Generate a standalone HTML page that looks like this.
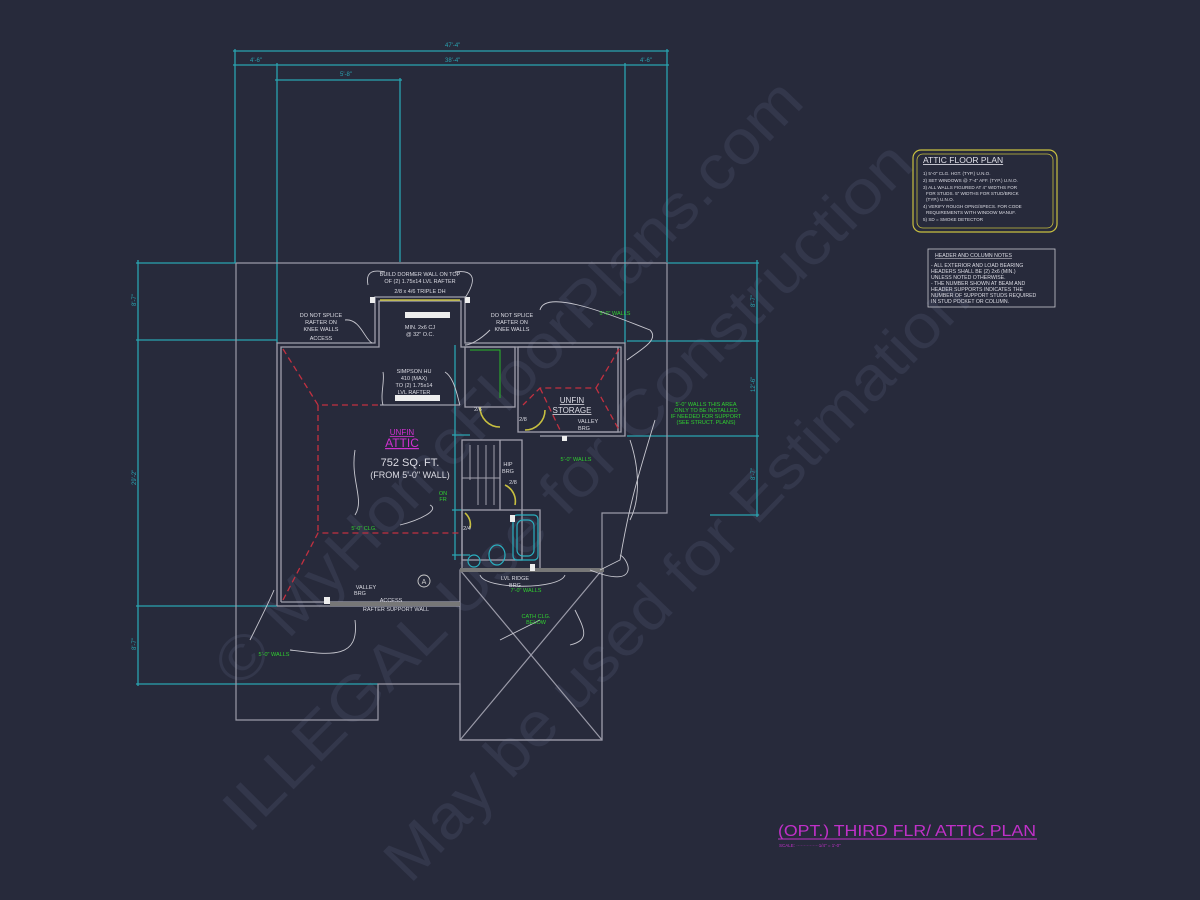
<!DOCTYPE html>
<html><head><meta charset="utf-8"><style>
html,body{margin:0;padding:0;background:#272a3b;}
svg{display:block;}
text{font-family:"Liberation Sans",sans-serif;}
</style></head><body>
<svg width="1200" height="900" viewBox="0 0 1200 900" xmlns="http://www.w3.org/2000/svg">
<rect width="1200" height="900" fill="#272a3b"/>
<!-- watermark -->
<g fill="#33374b" font-family="Liberation Serif,serif" font-size="62">
<text transform="translate(240,690) rotate(-46)" textLength="815" lengthAdjust="spacingAndGlyphs">© MyHomeFloorPlans.com</text>
<text transform="translate(248,835) rotate(-45)" textLength="945" lengthAdjust="spacingAndGlyphs">ILLEGAL Use for Construction</text>
<text transform="translate(410,885) rotate(-46)" textLength="810" lengthAdjust="spacingAndGlyphs">May be used for Estimation</text>
</g>
<!-- dimension lines cyan -->
<g stroke="#2aa3b0" stroke-width="1.3" fill="none">
<line x1="233" y1="51" x2="669" y2="51"/>
<line x1="233" y1="65" x2="669" y2="65"/>
<line x1="275" y1="80" x2="402" y2="80"/>
<line x1="235" y1="49" x2="235" y2="263"/>
<line x1="277" y1="63" x2="277" y2="343"/>
<line x1="400" y1="78" x2="400" y2="262"/>
<line x1="625" y1="63" x2="625" y2="343"/>
<line x1="667" y1="49" x2="667" y2="262"/>
<line x1="138" y1="260" x2="138" y2="686"/>
<line x1="136" y1="263" x2="236" y2="263"/>
<line x1="136" y1="340" x2="277" y2="340"/>
<line x1="136" y1="606" x2="277" y2="606"/>
<line x1="136" y1="684" x2="378" y2="684"/>
<line x1="757" y1="260" x2="757" y2="517"/>
<line x1="667" y1="263" x2="759" y2="263"/>
<line x1="627" y1="341" x2="759" y2="341"/>
<line x1="627" y1="436" x2="759" y2="436"/>
<line x1="710" y1="515" x2="759" y2="515"/>
<line x1="455" y1="345" x2="455" y2="560"/>
<line x1="452" y1="435" x2="470" y2="435"/>
<line x1="452" y1="510" x2="470" y2="510"/>
<line x1="452" y1="555" x2="470" y2="555"/>
</g>
<g fill="#2aa3b0" font-size="6">
<text x="445" y="47">47'-4"</text>
<text x="250" y="62">4'-6"</text>
<text x="445" y="62">38'-4"</text>
<text x="640" y="62">4'-6"</text>
<text x="340" y="76">5'-8"</text>
<text transform="translate(136,306) rotate(-90)">8'-7"</text>
<text transform="translate(136,485) rotate(-90)">29'-2"</text>
<text transform="translate(136,650) rotate(-90)">8'-7"</text>
<text transform="translate(755,307) rotate(-90)">8'-7"</text>
<text transform="translate(755,392) rotate(-90)">12'-6"</text>
<text transform="translate(755,480) rotate(-90)">8'-7"</text>
</g>
<!-- outer roof outline -->
<g stroke="#9a9aa8" stroke-width="1.2" fill="none">
<polyline points="236,263 667,263 667,513 602,513 602,740 460,740 460,684 378,684 378,720 236,720 236,263"/>
<line x1="460" y1="570" x2="602" y2="740"/>
<line x1="602" y1="570" x2="460" y2="740"/>
<rect x="460" y="570" width="142" height="170"/>
</g>
<!-- inner walls -->
<g stroke="#a0a0ad" stroke-width="1.3" fill="none">
<polyline points="277,606 277,343 375,343 375,297 465,297 465,343 625,343 625,436 540,436"/>
<polyline points="281,602 281,347 379,347 379,301 461,301 461,347 621,347 621,432 540,432"/>
<line x1="277" y1="606" x2="460" y2="606"/>
<line x1="281" y1="602" x2="460" y2="602"/>
<rect x="465" y="347" width="50" height="60"/>
<rect x="518" y="347" width="100" height="85"/>
<rect x="462" y="440" width="60" height="120"/>
<line x1="500" y1="440" x2="500" y2="510"/>
<rect x="462" y="510" width="78" height="60"/>
<line x1="380" y1="405" x2="460" y2="405"/>
</g>
<g stroke="#a0a0ad" stroke-width="1" fill="none">
<line x1="470" y1="445" x2="470" y2="480"/><line x1="478" y1="445" x2="478" y2="505"/><line x1="486" y1="445" x2="486" y2="505"/><line x1="494" y1="445" x2="494" y2="505"/>
<line x1="462" y1="478" x2="500" y2="478"/>
</g>
<rect x="460" y="568" width="144" height="4" fill="#777"/>
<rect x="330" y="602" width="130" height="4" fill="#777"/>
<polyline points="470,350 500,350 500,398" stroke="#28b828" fill="none"/>
<!-- red dashed hips -->
<g stroke="#c23040" stroke-width="1.3" fill="none" stroke-dasharray="6,4">
<polyline points="283,349 318,405 380,405"/>
<polyline points="283,600 318,533 460,533"/>
<line x1="318" y1="405" x2="318" y2="533"/>
<polyline points="619,349 596,388 540,388 523,405"/>
<line x1="596" y1="388" x2="619" y2="430"/>
<line x1="540" y1="388" x2="560" y2="430"/>
</g>
<!-- door swings yellow -->
<g stroke="#c8c040" stroke-width="1.6" fill="none">
<path d="M480,407 A20,20 0 0 0 500,427"/>
<path d="M525,430 A20,20 0 0 0 545,410"/>
<path d="M505,485 A18,18 0 0 1 515,505"/>
<path d="M465,513 A15,15 0 0 1 470,528"/>
<line x1="380" y1="300" x2="460" y2="300"/>
</g>
<!-- fixtures cyan -->
<g stroke="#2ab0c0" stroke-width="1.2" fill="none">
<rect x="513" y="515" width="25" height="45" rx="4"/>
<rect x="517" y="520" width="17" height="36" rx="6"/>
<ellipse cx="497" cy="555" rx="8" ry="10"/>
<circle cx="474" cy="561" r="6"/>
</g>
<rect x="405" y="312" width="45" height="6" fill="#eee"/>
<rect x="395" y="395" width="45" height="6" fill="#eee"/>
<rect x="370" y="297" width="5" height="6" fill="#eee"/>
<rect x="465" y="297" width="5" height="6" fill="#eee"/>
<rect x="324" y="597" width="6" height="7" fill="#eee"/>
<rect x="562" y="436" width="5" height="5" fill="#eee"/>
<rect x="510" y="515" width="5" height="7" fill="#eee"/>
<rect x="530" y="564" width="5" height="7" fill="#eee"/>
<!-- leaders -->
<g stroke="#c8c8d0" stroke-width="0.9" fill="none">
<path d="M368,285 C365,270 375,270 385,272 M455,272 C470,270 480,275 465,298"/>
<path d="M345,320 C360,318 365,340 372,343"/>
<path d="M490,330 C480,340 470,345 465,345"/>
<path d="M540,310 C545,290 600,310 650,330 C660,340 640,350 627,360"/>
<path d="M383,372 C385,380 380,395 383,405 M445,372 C455,378 458,400 460,405"/>
<path d="M355,450 C350,480 365,500 355,515"/>
<path d="M400,525 C420,520 440,510 430,505"/>
<path d="M250,640 C260,620 270,600 274,590 M290,650 C330,655 360,660 355,620"/>
<path d="M480,575 C485,590 560,590 565,575 M620,555 C630,560 640,590 590,570"/>
<path d="M500,640 C520,630 530,625 540,620 M575,610 C585,630 590,640 570,645"/>
<path d="M630,440 C640,470 640,500 630,520 M655,420 C640,470 630,500 620,560 L600,570"/>
</g>
<!-- white labels -->
<g fill="#dcdce4" font-size="5.5" text-anchor="middle">
<text x="420" y="276">BUILD DORMER WALL ON TOP</text>
<text x="420" y="283">OF (2) 1.75x14 LVL RAFTER</text>
<text x="420" y="293">2/8 x 4/6 TRIPLE DH</text>
<text x="420" y="329">MIN. 2x6 CJ</text>
<text x="420" y="336">@ 32" O.C.</text>
<text x="321" y="317">DO NOT SPLICE</text>
<text x="321" y="324">RAFTER ON</text>
<text x="321" y="331">KNEE WALLS</text>
<text x="321" y="340">ACCESS</text>
<text x="512" y="317">DO NOT SPLICE</text>
<text x="512" y="324">RAFTER ON</text>
<text x="512" y="331">KNEE WALLS</text>
<text x="414" y="373">SIMPSON HU</text>
<text x="414" y="380">410 (MAX)</text>
<text x="414" y="387">TO (2) 1.75x14</text>
<text x="414" y="394">LVL RAFTER</text>
<text x="508" y="466">HIP</text><text x="508" y="473">BRG</text>
<text x="366" y="589">VALLEY</text><text x="360" y="595">BRG</text>
<text x="391" y="602">ACCESS</text>
<text x="396" y="611">RAFTER SUPPORT WALL</text>
<text x="588" y="423">VALLEY</text><text x="584" y="430">BRG</text>
<text x="515" y="580">LVL RIDGE</text><text x="515" y="587">BRG</text>
<text x="478" y="411">2/6</text><text x="523" y="421">2/8</text><text x="513" y="484">2/8</text><text x="467" y="530">2/4</text>
</g>
<g fill="#dcdce4" font-size="11" text-anchor="middle">
<text x="410" y="466">752 SQ. FT.</text>
<text x="410" y="478" font-size="9">(FROM 5'-0" WALL)</text>
</g>
<g fill="#d030d0" text-anchor="middle" text-decoration="underline">
<text x="402" y="435" font-size="8">UNFIN</text>
<text x="402" y="447" font-size="12">ATTIC</text>
</g>
<g fill="#dcdce4" text-anchor="middle" text-decoration="underline">
<text x="572" y="403" font-size="8">UNFIN</text>
<text x="572" y="413" font-size="8">STORAGE</text>
</g>
<!-- green labels -->
<g fill="#30d030" font-size="5.5" text-anchor="middle">
<text x="615" y="315">5'-0" WALLS</text>
<text x="576" y="461">5'-0" WALLS</text>
<text x="706" y="406">5'-0" WALLS THIS AREA</text>
<text x="706" y="412">ONLY TO BE INSTALLED</text>
<text x="706" y="418">IF NEEDED FOR SUPPORT</text>
<text x="706" y="424">(SEE STRUCT. PLANS)</text>
<text x="364" y="530">5'-0" CLG.</text>
<text x="274" y="656">5'-0" WALLS</text>
<text x="526" y="592">7'-0" WALLS</text>
<text x="536" y="618">CATH CLG.</text>
<text x="536" y="624">BELOW</text>
<text x="443" y="495">ON</text><text x="443" y="501">FR</text>
</g>
<circle cx="424" cy="581" r="6" fill="none" stroke="#ccc" stroke-width="0.9"/>
<text x="424" y="584" font-size="7" fill="#ccc" text-anchor="middle">A</text>
<!-- note boxes -->
<rect x="913" y="150" width="144" height="82" rx="8" fill="none" stroke="#c8c040" stroke-width="1.2"/>
<rect x="917" y="154" width="136" height="74" rx="6" fill="none" stroke="#c8c040" stroke-width="0.8"/>
<text x="923" y="163" font-size="8.5" fill="#e0e0e8" text-decoration="underline">ATTIC FLOOR PLAN</text>
<g fill="#dcdce4" font-size="4.6">
<text x="923" y="175">1) 5'-0" CLG. HGT. (TYP.) U.N.O.</text>
<text x="923" y="182">2) SET WINDOWS @ 7'-4" AFF. (TYP.) U.N.O.</text>
<text x="923" y="189">3) ALL WALLS FIGURED AT 4" WIDTHS FOR</text>
<text x="926" y="195">FOR STUDS. 5" WIDTHS FOR STUD/BRICK</text>
<text x="926" y="201">(TYP.) U.N.O.</text>
<text x="923" y="208">4) VERIFY ROUGH OPNG/SPECS. FOR CODE</text>
<text x="926" y="214">REQUIREMENTS WITH WINDOW MANUF.</text>
<text x="923" y="221">5) SD = SMOKE DETECTOR</text>
</g>
<rect x="928" y="249" width="127" height="58" fill="none" stroke="#c8c8d0" stroke-width="0.8"/>
<g fill="#dcdce4" font-size="5.2">
<text x="935" y="257" text-decoration="underline">HEADER AND COLUMN NOTES</text>
<text x="931" y="267">- ALL EXTERIOR AND LOAD BEARING</text>
<text x="931" y="273">HEADERS SHALL BE (2) 2x6 (MIN.)</text>
<text x="931" y="279">UNLESS NOTED OTHERWISE.</text>
<text x="931" y="285">- THE NUMBER SHOWN AT BEAM AND</text>
<text x="931" y="291">HEADER SUPPORTS INDICATES THE</text>
<text x="931" y="297">NUMBER OF SUPPORT STUDS REQUIRED</text>
<text x="931" y="303">IN STUD POCKET OR COLUMN.</text>
</g>
<!-- title -->
<text x="778" y="836" font-size="16" fill="#c030c8" textLength="258" lengthAdjust="spacingAndGlyphs">(OPT.) THIRD FLR/ ATTIC PLAN</text>
<line x1="778" y1="839" x2="1037" y2="839" stroke="#c030c8" stroke-width="1"/>
<text x="779" y="847" font-size="4.5" fill="#c030c8">SCALE: ···············1/4" = 1'-0"</text>
</svg>
</body></html>
